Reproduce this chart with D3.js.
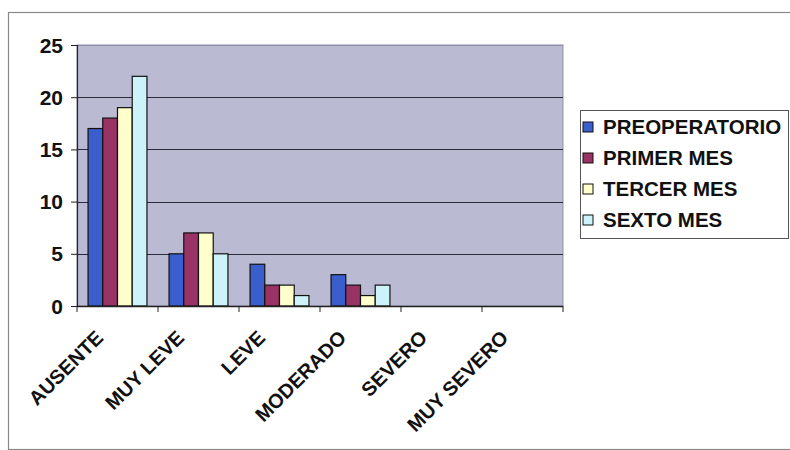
<!DOCTYPE html>
<html>
<head>
<meta charset="utf-8">
<script src="https://cdn.jsdelivr.net/npm/d3@7"></script>
<style>
  html, body { margin: 0; padding: 0; background: #fff; }
  svg { display: block; font-family: Arial, "Liberation Sans", sans-serif; font-weight: bold; }
</style>
</head>
<body>
<svg id="chart" width="790" height="450"></svg>
<script>
// Severity categories along the x axis
const categories = ["AUSENTE", "MUY LEVE", "LEVE", "MODERADO", "SEVERO", "MUY SEVERO"];
// Series, one per follow-up point
const seriesNames = ["PREOPERATORIO", "PRIMER MES", "TERCER MES", "SEXTO MES"];
const preoperatorio = [17, 5, 4, 3, 0, 0];
const primerMes     = [18, 7, 2, 2, 0, 0];
const tercerMes     = [19, 7, 2, 1, 0, 0];
const sextoMes      = [22, 5, 1, 2, 0, 0];
const yTicks = [0, 5, 10, 15, 20, 25];
const colors = ["#3A5FCD", "#993366", "#FFFFCC", "#CCF2FA"];

const seriesValues = [preoperatorio, primerMes, tercerMes, sextoMes];

const svg = d3.select("#chart");

// Outer chart frame
svg.append("rect")
  .attr("x", 8.5).attr("y", 12.5)
  .attr("width", 800).attr("height", 437)
  .attr("fill", "#fff").attr("stroke", "#888").attr("stroke-width", 1.2);

const plot = { left: 77, right: 563, top: 45, bottom: 306 };

const x = d3.scaleBand().domain(categories).range([plot.left, plot.right]).paddingInner(0).paddingOuter(0);
const y = d3.scaleLinear().domain([0, 25]).range([plot.bottom, plot.top]);

// Bars inside each category, with a 150% gap between clusters
const inner = d3.scaleBand().domain(d3.range(seriesNames.length))
  .range([0, x.bandwidth()]).paddingInner(0).paddingOuter(0.75);

// Plot background
svg.append("rect")
  .attr("x", plot.left).attr("y", plot.top)
  .attr("width", plot.right - plot.left).attr("height", plot.bottom - plot.top)
  .attr("fill", "#BABBD3").attr("stroke", "#8f90a8").attr("stroke-width", 1);

// Horizontal gridlines
svg.append("g").selectAll("line").data(yTicks.filter(d => d > 0)).join("line")
  .attr("x1", plot.left).attr("x2", plot.right)
  .attr("y1", d => Math.round(y(d)) + 0.5).attr("y2", d => Math.round(y(d)) + 0.5)
  .attr("stroke", d => d === 25 ? "#8f90a8" : "#2a2a38").attr("stroke-width", 1);

// Bars
const groups = svg.append("g").selectAll("g").data(seriesValues).join("g")
  .attr("fill", (d, i) => colors[i]);
groups.each(function(vals, si) {
  d3.select(this).selectAll("rect").data(vals.map((v, ci) => ({ v, c: categories[ci] })).filter(d => d.v > 0))
    .join("rect")
    .attr("x", d => x(d.c) + inner(si))
    .attr("width", inner.bandwidth())
    .attr("y", d => y(d.v))
    .attr("height", d => y(0) - y(d.v))
    .attr("stroke", "#111").attr("stroke-width", 1.2);
});

// Y axis
const yAxis = d3.axisLeft(y).tickValues(yTicks).tickSize(6).tickPadding(8).tickFormat(d3.format("d"));
const gy = svg.append("g").attr("transform", `translate(${plot.left},0)`).call(yAxis);
gy.select(".domain").attr("stroke", "#222").attr("stroke-width", 1.2);
gy.selectAll(".tick line").attr("stroke", "#222");
gy.selectAll("text").attr("font-size", 21).attr("font-weight", "bold").attr("fill", "#111")
  .attr("font-family", "Arial, 'Liberation Sans', sans-serif").attr("dy", "0.34em");

// X axis with ticks between categories
const xAxisLine = svg.append("g");
xAxisLine.append("line")
  .attr("x1", plot.left).attr("x2", plot.right)
  .attr("y1", plot.bottom + 0.5).attr("y2", plot.bottom + 0.5)
  .attr("stroke", "#222").attr("stroke-width", 1.5);
xAxisLine.selectAll("line.tk").data(categories.concat(["_end"])).join("line")
  .attr("class", "tk")
  .attr("x1", (d, i) => plot.left + i * x.step()).attr("x2", (d, i) => plot.left + i * x.step())
  .attr("y1", plot.bottom).attr("y2", plot.bottom + 6)
  .attr("stroke", "#222");

// Rotated category labels
svg.append("g").selectAll("text").data(categories).join("text")
  .attr("transform", d => `translate(${x(d) + x.bandwidth() / 2 - 13},${plot.bottom + 33}) rotate(-45)`)
  .attr("text-anchor", "end")
  .attr("font-size", 20).attr("fill", "#111")
  .text(d => d);

// Legend
const legend = svg.append("g");
legend.append("rect")
  .attr("x", 580.5).attr("y", 110.5).attr("width", 208).attr("height", 128)
  .attr("fill", "#fff").attr("stroke", "#555").attr("stroke-width", 1);
const items = legend.selectAll("g.item").data(seriesNames).join("g")
  .attr("class", "item")
  .attr("transform", (d, i) => `translate(583,${127 + i * 31})`);
items.append("rect")
  .attr("x", 0).attr("y", -5).attr("width", 10).attr("height", 10)
  .attr("fill", (d, i) => colors[i]).attr("stroke", "#111").attr("stroke-width", 1);
items.append("text")
  .attr("x", 20).attr("y", 7)
  .attr("font-size", 20.5).attr("fill", "#111")
  .text(d => d);
</script>
</body>
</html>
